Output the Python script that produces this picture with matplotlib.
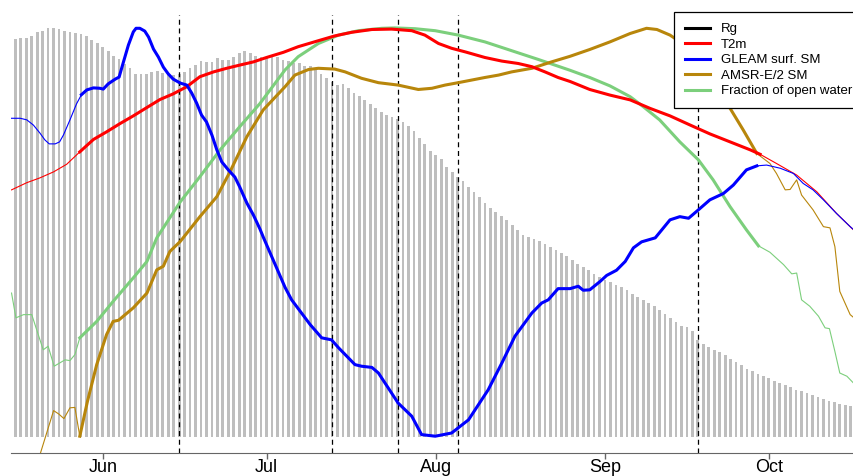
import numpy as np
import matplotlib
matplotlib.use("Agg")
from matplotlib import pyplot as plt
from matplotlib.lines import Line2D

plt.rcParams['font.family'] = ['Liberation Sans', 'DejaVu Sans']

# days counted from 1 June, values in % of each variable's maximum
month_days = [0, 30, 61, 92, 122]
month_labels = ['Jun', 'Jul', 'Aug', 'Sep', 'Oct']
event_days = [14, 42, 54, 65, 109]

rg_days = np.arange(-16, 138)
rg_vals = [99.5, 99.7, 99.8, 100.3, 101.2, 101.6, 102.3, 102.3, 102.1, 101.4,
           101.2, 100.9, 100.8, 100.3, 99.3, 98.4, 97.5, 96.5, 95.3, 94.4,
           93.3, 92.2, 90.8, 90.8, 90.8, 91.2, 91.5, 90.9, 90.8, 90.5,
           90.8, 91.2, 92.2, 93.0, 94.1, 93.8, 93.8, 94.7, 94.3, 94.3,
           94.9, 95.9, 96.5, 95.9, 95.3, 94.9, 94.9, 94.9, 94.9, 94.3,
           93.9, 93.5, 93.4, 92.8, 92.8, 91.9, 90.8, 89.7, 88.8, 88.0,
           88.2, 87.2, 86.1, 85.3, 84.3, 83.2, 82.2, 81.3, 80.5, 79.9,
           79.4, 78.8, 77.8, 76.5, 74.8, 73.2, 71.6, 70.5, 69.4, 67.6,
           66.3, 65.1, 64.0, 62.6, 61.3, 60.1, 58.6, 57.3, 56.3, 55.3,
           54.3, 53.0, 51.8, 50.5, 50.0, 49.5, 49.0, 48.3, 47.5, 46.8,
           46.0, 45.3, 44.3, 43.3, 42.5, 41.7, 40.8, 40.0, 39.3, 38.8,
           38.1, 37.4, 36.7, 35.8, 34.9, 34.2, 33.5, 32.7, 31.8, 30.8,
           29.8, 28.8, 27.8, 27.4, 26.4, 24.3, 23.3, 22.6, 21.8, 21.2,
           20.4, 19.6, 18.7, 17.9, 17.1, 16.4, 15.8, 15.3, 14.8, 14.1,
           13.5, 13.1, 12.5, 11.8, 11.4, 11.0, 10.6, 9.9, 9.5, 9.1,
           8.8, 8.3, 8.1, 7.8]

gleam_days = [-16.7, -15.1, -13.9, -12.7, -11.5, -10.6, -9.8, -8.7, -7.9, -7.2,
              -6.0, -4.8, -3.9, -2.9, -1.7, -0.5, 0.1, 1.0, 2.3, 3.0,
              3.8, 4.7, 5.6, 6.1, 6.8, 7.7, 8.4, 9.3, 10.2, 11.1,
              12.0, 12.9, 14.2, 15.4, 16.3, 17.2, 18.1, 19.0, 20.0, 20.9,
              21.8, 23.0, 24.2, 25.1, 26.4, 27.6, 28.8, 29.4, 33.4, 34.6,
              38.0, 40.1, 41.9, 43.2, 46.2, 47.4, 49.3, 50.5, 54.1, 56.6,
              58.4, 60.9, 63.9, 67.0, 70.6, 73.1, 75.5, 78.6, 80.4, 81.6,
              83.4, 85.6, 87.1, 88.0, 89.2, 91.1, 92.3, 94.1, 95.7, 97.2,
              98.7, 101.2, 103.9, 105.7, 107.3, 109.1, 111.2, 113.7, 115.5, 117.9,
              119.8, 121.6, 124.1, 126.5, 128.3, 130.1, 132.0, 134.4, 136.9, 138.0]
gleam_vals = [79.7, 79.7, 79.3, 78.0, 76.0, 74.3, 73.3, 73.3, 73.8, 75.5,
              79.3, 83.3, 85.6, 86.8, 87.3, 87.2, 87.0, 88.3, 89.5, 90.0,
              93.8, 98.0, 101.3, 102.2, 102.2, 101.5, 100.0, 97.0, 95.0, 92.5,
              90.8, 89.5, 88.5, 88.0, 86.0, 83.5, 80.5, 78.8, 75.5, 71.8,
              68.8, 66.8, 65.0, 62.5, 58.5, 55.5, 52.0, 50.0, 37.4, 34.3,
              28.1, 24.8, 24.3, 22.3, 18.1, 17.7, 17.4, 16.0, 8.5, 5.2,
              0.6, 0.2, 1.0, 4.3, 11.8, 18.5, 25.2, 31.0, 33.5, 34.3,
              37.1, 37.1, 37.7, 36.7, 36.8, 38.9, 40.4, 41.7, 43.9, 47.3,
              48.8, 49.8, 54.3, 55.1, 54.7, 56.8, 59.3, 60.9, 63.0, 66.8,
              67.8, 68.0, 67.2, 65.9, 63.4, 61.8, 59.3, 55.9, 52.6, 51.3]

t2m_days = [-16.7, -13.9, -11.5, -9.0, -6.6, -4.2, -1.7, 0.7, 3.2, 5.6,
            8.1, 10.5, 12.9, 15.4, 17.8, 20.3, 22.7, 25.1, 27.6, 30.0,
            33.1, 35.8, 39.5, 42.5, 45.6, 49.3, 52.9, 56.6, 59.0, 61.5,
            63.9, 66.4, 70.0, 73.1, 76.1, 78.6, 81.0, 83.4, 85.6, 89.2,
            92.9, 96.6, 100.2, 103.9, 107.6, 111.2, 114.9, 118.6, 120.4, 123.4,
            127.1, 130.8, 134.4, 137.5]
t2m_vals = [61.8, 63.6, 64.8, 66.3, 68.2, 71.3, 74.4, 76.3, 78.4, 80.3,
            82.4, 84.4, 85.8, 87.6, 90.1, 91.3, 92.2, 93.0, 93.8, 94.9,
            96.2, 97.6, 99.1, 100.3, 101.2, 101.9, 102.0, 101.6, 100.5, 98.4,
            97.2, 96.3, 94.9, 94.0, 93.4, 92.6, 91.3, 89.9, 88.9, 86.9,
            85.5, 84.3, 82.2, 80.3, 78.0, 75.8, 73.8, 71.8, 70.7, 68.4,
            65.5, 61.3, 55.9, 51.8]

amsr_days = [-11.4, -9.0, -8.1, -7.1, -6.0, -5.1, -4.2, -2.8, -1.1, 0.7,
             1.9, 2.9, 5.6, 8.1, 9.9, 11.1, 12.3, 14.2, 17.8, 20.9,
             23.3, 26.4, 29.4, 33.4, 35.2, 37.7, 39.5, 42.5, 44.4, 47.4,
             50.5, 54.1, 57.8, 60.3, 62.7, 65.1, 70.0, 72.5, 74.9, 78.6,
             82.2, 85.6, 89.2, 92.9, 96.6, 99.6, 101.5, 103.9, 105.1, 109.4,
             114.9, 117.3, 119.8, 122.2, 123.4, 125.0, 125.9, 127.1, 128.0, 130.1,
             132.0, 133.2, 134.1, 135.0, 136.9, 137.6]
amsr_vals = [-4.0, 6.6, 5.8, 4.6, 7.3, 7.4, 0.2, 8.9, 18.1, 25.6,
             28.9, 29.2, 32.3, 36.0, 41.8, 42.7, 46.4, 48.9, 55.1, 60.1,
             66.3, 75.1, 81.8, 87.6, 90.5, 91.9, 92.2, 92.0, 91.3, 89.7,
             88.6, 88.0, 86.9, 87.2, 88.0, 88.6, 89.9, 90.5, 91.3, 92.2,
             93.8, 95.2, 96.9, 98.8, 100.9, 102.2, 101.9, 100.5, 99.4, 92.3,
             82.2, 76.8, 70.9, 68.4, 65.9, 61.8, 61.9, 64.3, 60.5, 56.8,
             52.6, 52.3, 47.6, 36.4, 30.6, 29.8]

water_days = [-16.7, -15.9, -14.5, -13.0, -10.9, -10.0, -8.9, -6.9, -6.0, -5.1,
              -4.2, -1.1, 1.9, 5.6, 8.1, 9.9, 14.2, 17.8, 21.5, 25.1,
              28.8, 33.4, 35.8, 39.5, 43.2, 46.8, 51.1, 53.5, 57.2, 60.9,
              65.1, 70.0, 74.9, 79.8, 85.6, 89.2, 92.9, 96.6, 99.0, 102.0,
              105.7, 109.1, 111.8, 114.9, 117.9, 120.1, 122.2, 124.7, 126.2, 127.1,
              128.0, 129.5, 131.1, 132.3, 133.1, 134.1, 135.0, 136.3, 137.5]
water_vals = [36.0, 29.8, 30.6, 30.6, 21.8, 22.7, 17.7, 19.3, 19.1, 20.6,
              24.8, 28.9, 33.9, 39.8, 43.9, 49.8, 58.8, 65.1, 71.8, 77.6,
              83.4, 91.8, 95.1, 98.4, 100.5, 101.6, 102.2, 102.3, 102.1, 101.6,
              100.5, 98.8, 96.6, 94.4, 91.7, 89.9, 87.8, 85.1, 82.6, 79.3,
              73.8, 69.3, 64.3, 57.6, 51.8, 47.8, 46.2, 43.1, 40.8, 41.0,
              34.3, 32.7, 30.2, 27.3, 27.1, 21.4, 16.0, 15.2, 13.5]

# period where the series are drawn bold
bold_start, bold_end = -4.3, 120.5

series = [('T2m', t2m_days, t2m_vals, '#ff0000'),
          ('GLEAM surf. SM', gleam_days, gleam_vals, '#0000ff'),
          ('AMSR-E/2 SM', amsr_days, amsr_vals, '#b8860b'),
          ('Fraction of open water', water_days, water_vals, '#7ccf7c')]

fig = plt.figure(figsize=(8.54, 4.76), dpi=100)
ax = fig.add_axes([11 / 854, 23 / 476, 869 / 854, 438.3 / 476])

ax.bar(rg_days, rg_vals, width=0.5, color='#bebebe', zorder=1)

for d in event_days:
    ax.axvline(d, color='black', ls='--', lw=0.9, dashes=(4, 3), zorder=2)

draw_order = ['Fraction of open water', 'AMSR-E/2 SM', 'T2m', 'GLEAM surf. SM']
for name in draw_order:
    _, days, vals, col = [s for s in series if s[0] == name][0]
    days = np.array(days)
    vals = np.array(vals)
    ax.plot(days, vals, color=col, lw=0.8, zorder=3)
    m = (days >= bold_start) & (days <= bold_end)
    ax.plot(days[m], vals[m], color=col, lw=2.2, zorder=4)

ax.set_xlim(-16.8, (880 - 102.7) / 5.46)
ax.set_ylim(-4, 105.6)
ax.set_xticks(month_days)
ax.set_xticklabels(month_labels, fontsize=13)
ax.set_yticks([])
for s in ['top', 'right', 'left']:
    ax.spines[s].set_visible(False)
ax.spines['bottom'].set_color('#666666')
ax.tick_params(axis='x', direction='out', length=4, width=1,
               color='#666666', pad=0)

handles = [Line2D([], [], color='black', lw=2.2, label='Rg')]
for name, _, _, col in series:
    handles.append(Line2D([], [], color=col, lw=2.2, label=name))
leg = fig.legend(handles=handles, loc='upper left',
                 bbox_to_anchor=(674 / 854, 1 - 12.5 / 476),
                 fontsize=9.5, frameon=True, fancybox=False,
                 framealpha=1, edgecolor='black', borderpad=0.8,
                 labelspacing=0.25, handlelength=1.95, handletextpad=0.8,
                 borderaxespad=0)
leg.get_frame().set_linewidth(0.9)
leg.set_zorder(10)

fig.savefig('out.png', dpi=100)
